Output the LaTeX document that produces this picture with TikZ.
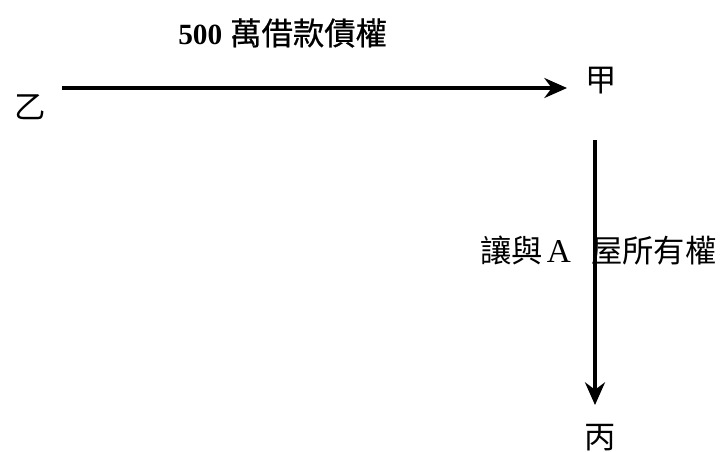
\documentclass[tikz,border=0pt]{standalone}
\usepackage{fontspec}
\setmainfont{Liberation Serif}
\newfontfamily\cjk{Noto Sans CJK TC}
\newfontfamily\cjkmid[FakeBold=0.6]{Noto Sans CJK TC}
\usetikzlibrary{arrows.meta}
\tikzset{
  lbl/.style={inner sep=0pt, font=\fontsize{23.5}{28}\selectfont\cjk},
  arr/.style={line width=2.4pt, -{Stealth[length=17pt,width=15pt]}}
}
\begin{document}
\begin{tikzpicture}[x=0.75pt,y=-0.75pt]
\useasboundingbox (0,0) rectangle (724,451);
\node[lbl, anchor=west] (title) at (178,33) {{\fontsize{22}{26}\selectfont\rmfamily\bfseries 500}\hspace{6pt}{\cjkmid 萬借款債權}};
\node[lbl] (yi) at (30,107) {乙};
\node[lbl] (jia) at (601,81) {甲};
\node[lbl] (bing) at (600,438) {丙};
\node[lbl, anchor=west] (rel) at (480,251) {讓與\hspace{3pt}{\fontsize{25}{28}\selectfont\rmfamily A}\hspace{15pt}屋所有權};
\draw[arr, shorten <=24pt, shorten >=25.5pt] ([yshift=14.25pt]yi.center) -- ([yshift=-5.25pt]jia.center);
\draw[arr, shorten <=44.25pt, shorten >=24.75pt] ([xshift=-4.5pt]jia.center) -- ([xshift=-3.75pt]bing.center);
\end{tikzpicture}
\end{document}
